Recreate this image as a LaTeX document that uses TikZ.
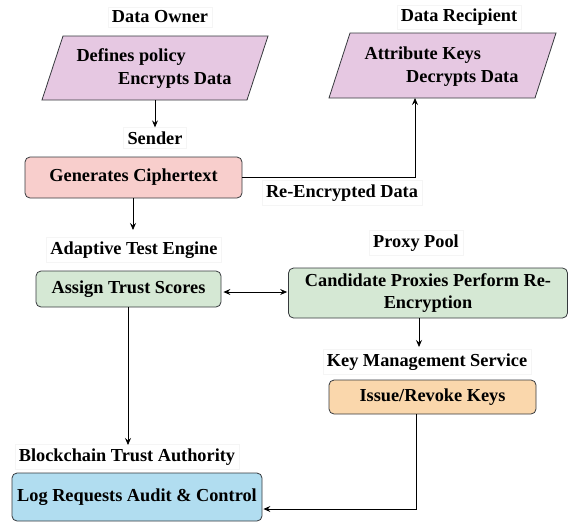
\documentclass[tikz,border=0pt]{standalone}
\usepackage{fontspec}
\setmainfont{Liberation Serif}
\usetikzlibrary{arrows.meta}
\definecolor{lilac}{HTML}{E6C8E2}
\definecolor{pinkfill}{HTML}{F8CECC}
\definecolor{greenfill}{HTML}{D5E8D4}
\definecolor{orangefill}{HTML}{FAD7AC}
\definecolor{bluefill}{HTML}{B1DDF0}
\definecolor{edge}{HTML}{36393D}
\tikzset{
  txt/.style={font=\bfseries\fontsize{18.3}{22}\selectfont, text=black},
  lbl/.style={txt, fill=white, draw=black!4, inner sep=4pt},
  rbox/.style={txt, draw=edge, line width=0.8pt, rounded corners=5pt, inner sep=0pt},
  para/.style={draw=edge, line width=0.8pt, fill=lilac},
  conn/.style={draw=black, line width=0.8pt},
  tip/.style={-{Stealth[length=7pt,width=6pt,inset=2.5pt]}},
  tips/.style={{Stealth[length=7pt,width=6pt,inset=2.5pt]}-{Stealth[length=7pt,width=6pt,inset=2.5pt]}},
}
\begin{document}
\begin{tikzpicture}[x=1pt,y=-1pt]
\useasboundingbox (0,0) rectangle (569,522);

% --- data owner ---
\node[lbl] (ownerlbl) at (160,17) {Data Owner};
\draw[para] (63,36) -- (268,36) -- (247,100) -- (42,100) -- cycle;
\coordinate (ownerbot) at (155,100);
\node[txt, anchor=west] (owner1) at (73,57) {Defines policy};
\node[txt, anchor=east] (owner2) at (235,80) {Encrypts Data};

% --- data recipient ---
\node[lbl] (reclbl) at (459,17) {Data Recipient};
\draw[para] (350,33) -- (556,33) -- (535,98) -- (329,98) -- cycle;
\coordinate (recbot) at (415,98);
\node[txt, anchor=west] (rec1) at (361,55) {Attribute Keys};
\node[txt, anchor=east] (rec2) at (522,78) {Decrypts Data};

% --- sender ---
\node[lbl] (senderlbl) at (155,138) {Sender};
\node[rbox, fill=pinkfill, minimum width=217pt, minimum height=41pt] (gen) at (133.5,177.5) {Generates Ciphertext};

\node[lbl] (relbl) at (342,193) {Re-Encrypted Data};

% --- adaptive test engine / proxy pool ---
\node[lbl] (atelbl) at (134,250) {Adaptive Test Engine};
\node[rbox, fill=greenfill, minimum width=185pt, minimum height=36pt] (trust) at (128.5,289) {Assign Trust Scores};

\node[lbl] (proxylbl) at (416,243) {Proxy Pool};
\node[rbox, fill=greenfill, minimum width=279pt, minimum height=50pt, align=center] (cand) at (428,293) {Candidate Proxies Perform Re-\\[0pt]Encryption};

% --- key management ---
\node[lbl] (kmslbl) at (427,362) {Key Management Service};
\node[rbox, fill=orangefill, minimum width=207pt, minimum height=34pt] (keys) at (432.5,397) {Issue/Revoke Keys};

% --- blockchain ---
\node[lbl] (bclbl) at (127,457) {Blockchain Trust Authority};
\node[rbox, fill=bluefill, minimum width=250pt, minimum height=48pt] (logbox) at (137,497) {Log Requests Audit \& Control};

% --- connectors ---
\draw[conn, tip] (ownerbot) -- (ownerbot |- senderlbl.north);
\draw[conn, tip] (gen.east) -| (recbot);
\draw[conn, tip] (133,198) -- (133,230);
\draw[conn, tips] (trust.east) ++(2,3) coordinate (dl) (dl) -- ([xshift=-1pt]cand.west |- dl);
\draw[conn, tip] (419,318) -- (419,347);
\draw[conn, tip] (128,307) -- (128,445);
\draw[conn, tip] (416,414) |- ([xshift=1pt]logbox.east |- 0,509);
\end{tikzpicture}
\end{document}
